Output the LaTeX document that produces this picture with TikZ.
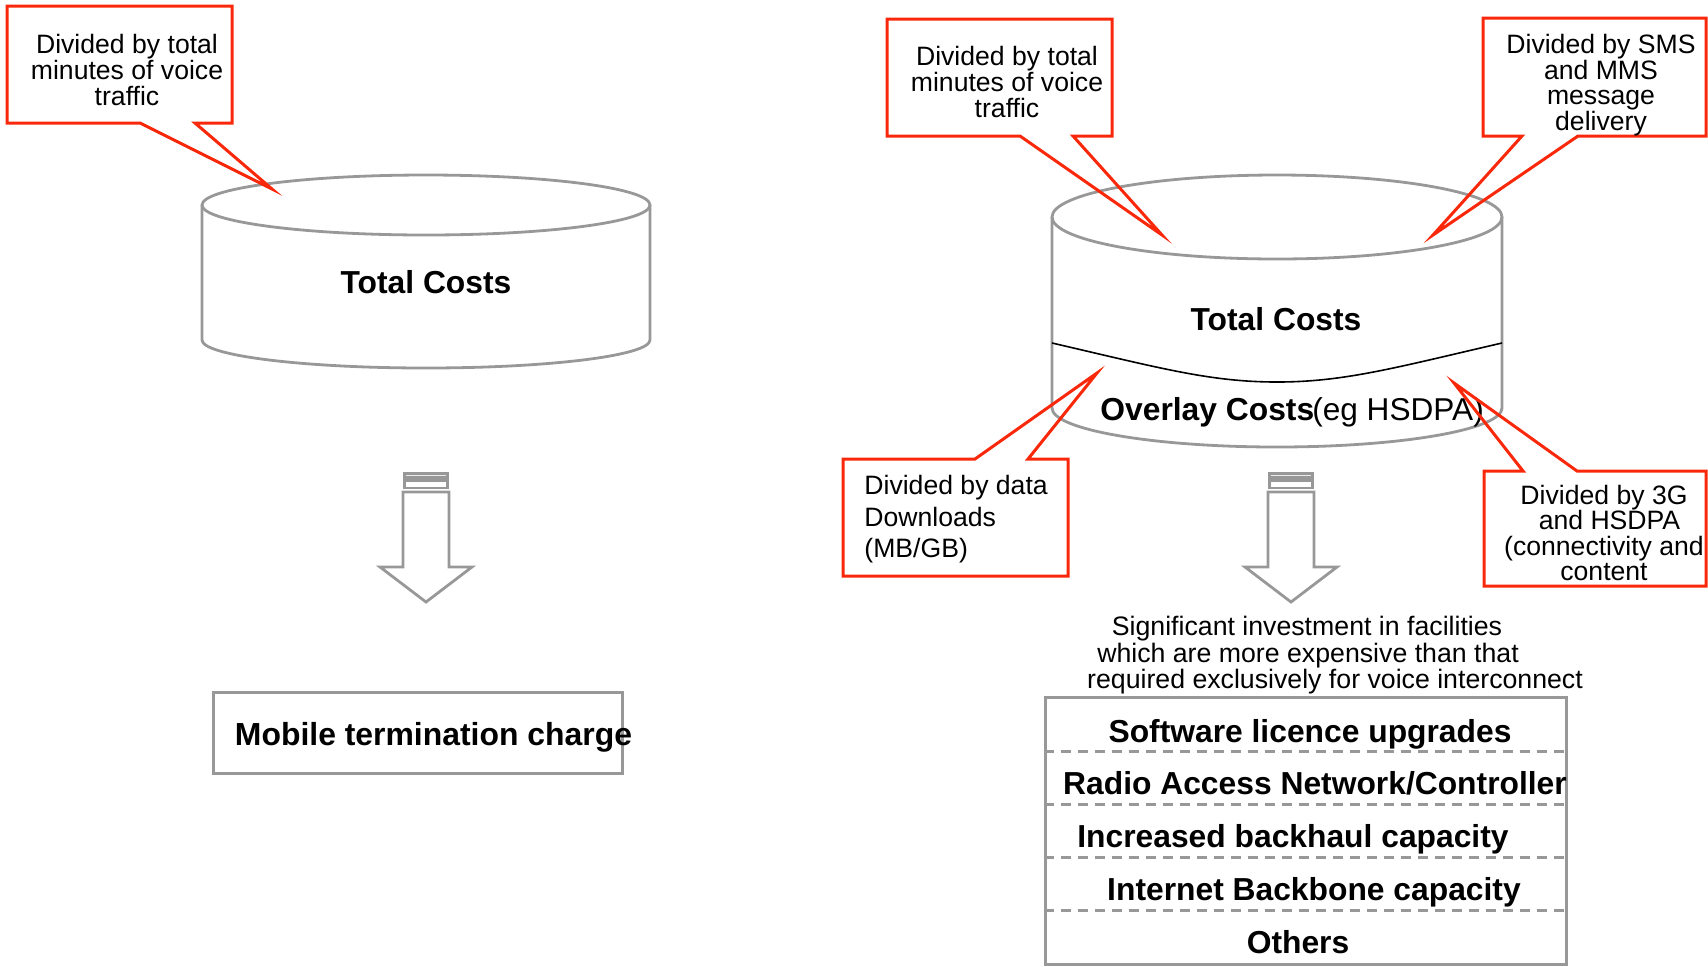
\documentclass[tikz,border=0pt]{standalone}
\usepackage{fontspec}
\setmainfont{Liberation Sans}
\definecolor{callred}{RGB}{250,40,10}
\definecolor{cylgray}{RGB}{152,152,152}
\newcommand{\topstrut}{\vrule height 11pt width 0pt depth 0pt}
\begin{document}
\begin{tikzpicture}[x=0.5pt,y=-0.5pt,
  callout/.style={draw=callred, line width=1.5pt, line join=miter},
  calltext/.style={inner sep=0pt, align=center, anchor=north, font=\fontsize{13.3}{13}\selectfont},
  cyl/.style={draw=cylgray, line width=1.4pt},
  bigbold/.style={inner sep=0pt, anchor=base, font=\fontsize{15.9}{18}\selectfont\bfseries},
  listtext/.style={inner sep=0pt, anchor=base, font=\fontsize{15.9}{18}\selectfont\bfseries},
  introtext/.style={inner sep=0pt, anchor=base, font=\fontsize{13.35}{15}\selectfont},
  blockarrow/.style={draw=cylgray, line width=1.4pt, line join=miter},
  dashline/.style={draw=cylgray, line width=1.5pt, dash pattern=on 5pt off 3.5pt},
  graybox/.style={draw=cylgray, line width=1.5pt, inner sep=0pt}
]
\useasboundingbox (0,0) rectangle (1708,966);

% ---------- left cylinder ----------
\draw[cyl] (426,205) ellipse [x radius=224, y radius=30];
\draw[cyl] (202,205) -- (202,340) arc[start angle=180, end angle=0, x radius=224, y radius=28] -- (650,205);
\node[bigbold] (ltotal) at (426,293) {Total Costs};

% ---------- right cylinder ----------
\draw[cyl] (1277,217) ellipse [x radius=225, y radius=42];
\draw[cyl] (1052,217) -- (1052,408) arc[start angle=180, end angle=0, x radius=225, y radius=39] -- (1502,217);
\draw[black, line width=0.8pt] (1052,343) .. controls (1160,368) and (1210,382) .. (1277,382)
  .. controls (1344,382) and (1394,368) .. (1502,343);
\node[bigbold] (rtotal) at (1276,330) {Total Costs};
\node[inner sep=0pt, anchor=base west] (overlay) at (1100,420)
  {{\fontsize{15.9}{18}\selectfont\bfseries Overlay Costs}\hspace{-1pt}{\fontsize{15.8}{18}\selectfont(eg HSDPA)}};

% ---------- block arrows ----------
\foreach \cx in {426, 1291}{
  \begin{scope}[shift={(\cx,0)}]
    \fill[cylgray] (-23,472) rectangle (23,489);
    \fill[white] (-20,482) rectangle (20,486.5);
    \draw[white!80!cylgray, line width=0.6pt] (-20,475.5) -- (20,475.5);
    \draw[blockarrow] (-23,492) -- (23,492) -- (23,567) -- (46,567) -- (0,602) -- (-46,567) -- (-23,567) -- cycle;
  \end{scope}
}

% ---------- bottom left box ----------
\node[graybox, minimum width=204.5pt, minimum height=40.5pt] (mtcbox) at (417.5,732.5) {};
\node[bigbold, font=\fontsize{15.95}{18}\selectfont\bfseries] (mtc) at (433.5,745) {Mobile termination charge};

% ---------- intro text ----------
\node[introtext] (intro1) at (1307,635) {Significant investment in facilities};
\node[introtext] (intro2) at (1308,662) {which are more expensive than that};
\node[introtext] (intro3) at (1335,688) {required exclusively for voice interconnect};

% ---------- list box ----------
\node[graybox, minimum width=260.5pt, minimum height=133.5pt] (listbox) at (1305.5,830.5) {};
\draw[dashline] (listbox.west |- 0,751) -- (listbox.east |- 0,751);
\draw[dashline] (listbox.west |- 0,804) -- (listbox.east |- 0,804);
\draw[dashline] (listbox.west |- 0,857) -- (listbox.east |- 0,857);
\draw[dashline] (listbox.west |- 0,910) -- (listbox.east |- 0,910);
\node[listtext] (l1) at (1310,742) {Software licence upgrades};
\node[listtext] (l2) at (1315,794.5) {Radio Access Network/Controller};
\node[listtext] (l3) at (1293,847) {Increased backhaul capacity};
\node[listtext] (l4) at (1314,900) {Internet Backbone capacity};
\node[listtext] (l5) at (1298,953) {Others};

% ---------- callouts ----------
\draw[callout] (7,6) -- (232,6) -- (232,123) -- (195,123) -- (272,189) -- (140,123) -- (7,123) -- cycle;
\node[calltext] (c1) at (127,31) {\topstrut Divided by total\\minutes of voice\\traffic};

\draw[callout] (887,19) -- (1112,19) -- (1112,136) -- (1073,136) -- (1162,235) -- (1020,136) -- (887,136) -- cycle;
\node[calltext] (c2) at (1007,43) {\topstrut Divided by total\\minutes of voice\\traffic};

\draw[callout] (1483,18) -- (1706,18) -- (1706,136) -- (1578,136) -- (1433,235) -- (1522,136) -- (1483,136) -- cycle;
\node[calltext, font=\fontsize{13.3}{12.85}\selectfont] (c3) at (1601,31) {\topstrut Divided by SMS\\and MMS\\message\\delivery};

\draw[callout] (843,459) -- (975,459) -- (1097,373) -- (1028,459) -- (1068,459) -- (1068,576) -- (843,576) -- cycle;
\node[calltext, align=left, anchor=north west, font=\fontsize{13.3}{15.8}\selectfont] (c4) at (864,472) {\topstrut Divided by data\\Downloads\\(MB/GB)};

\draw[callout] (1484,471) -- (1523,471) -- (1454,383) -- (1577,471) -- (1706,471) -- (1706,586) -- (1484,586) -- cycle;
\node[calltext, font=\fontsize{13.3}{12.75}\selectfont] (c5) at (1604,482) {\topstrut Divided by 3G\\\hspace*{5.5pt}and HSDPA\\(connectivity and\\content};

\end{tikzpicture}
\end{document}
